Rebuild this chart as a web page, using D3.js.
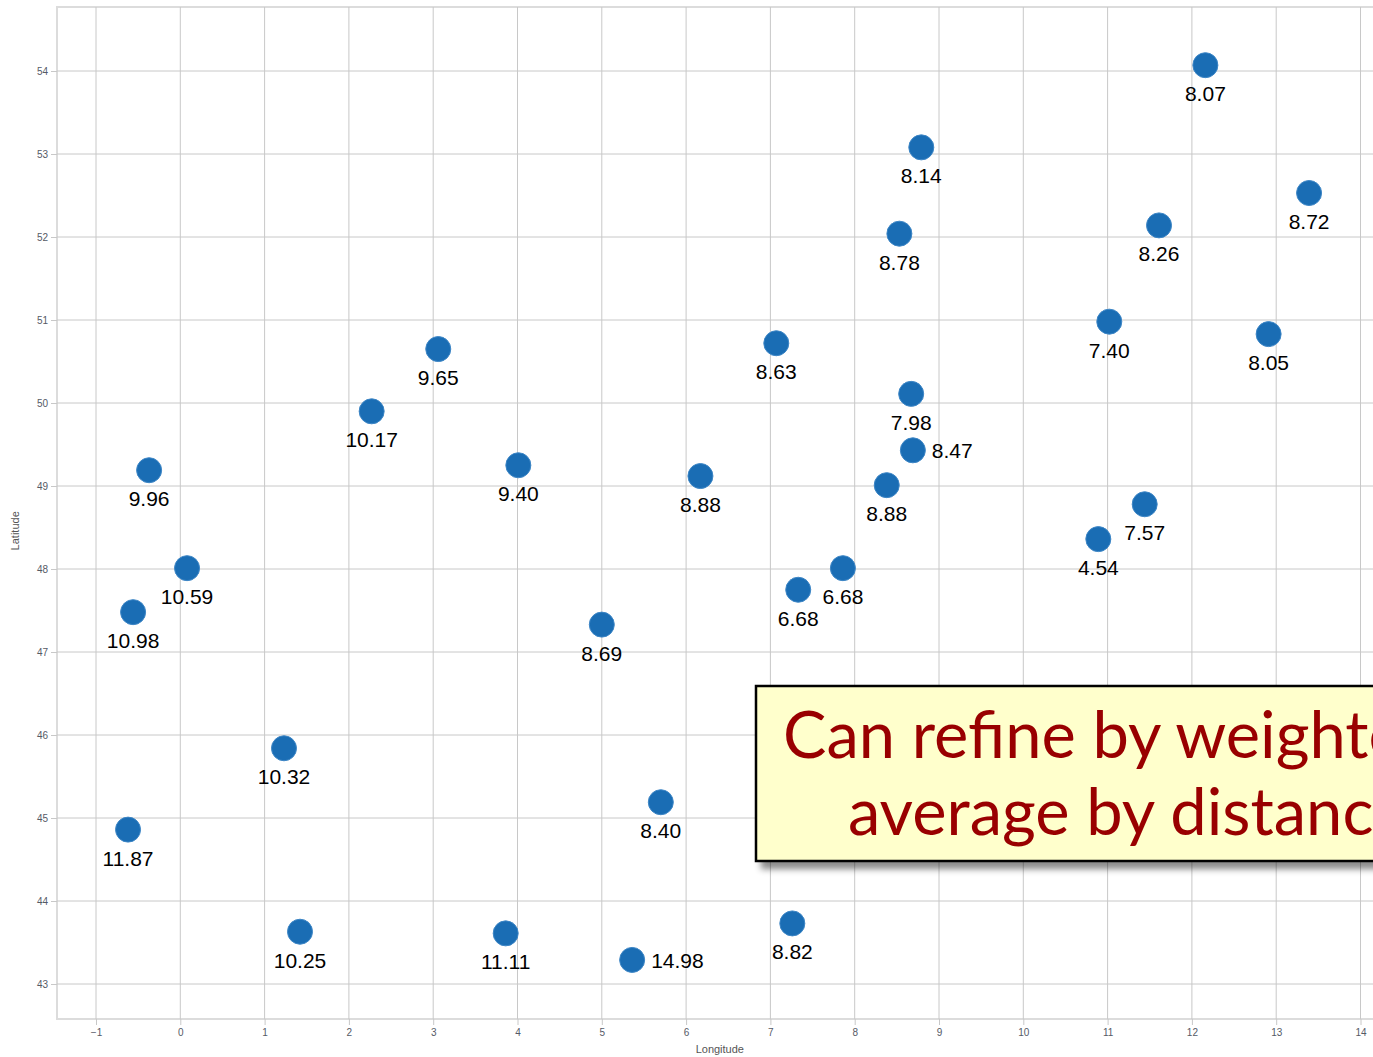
<!DOCTYPE html>
<html>
<head>
<meta charset="utf-8">
<script src="https://cdn.jsdelivr.net/npm/d3@7"></script>
<style>
  html, body { margin: 0; padding: 0; overflow: hidden; background: #fff; }
  #viz svg { display: block; }
</style>
</head>
<body>
<div id="viz"></div>
<script>
const longitudes = [12.16, 8.79, 13.39, 11.61, 8.53, 11.02, 12.91, 3.06, 7.07, 2.27,
  8.67, 8.69, -0.37, 4.01, 6.17, 8.38, 11.44, 10.89, 0.08, -0.56,
  7.86, 7.33, 5.00, 1.23, 5.70, -0.62, 1.42, 3.86, 5.36, 7.26];
const latitudes = [54.07, 53.08, 52.53, 52.14, 52.04, 50.98, 50.83, 50.65, 50.72, 49.90,
  50.11, 49.43, 49.19, 49.25, 49.12, 49.01, 48.78, 48.36, 48.01, 47.48,
  48.01, 47.75, 47.33, 45.84, 45.19, 44.86, 43.63, 43.61, 43.29, 43.73];
const values = ['8.07', '8.14', '8.72', '8.26', '8.78', '7.40', '8.05', '9.65', '8.63', '10.17',
  '7.98', '8.47', '9.96', '9.40', '8.88', '8.88', '7.57', '4.54', '10.59', '10.98',
  '6.68', '6.68', '8.69', '10.32', '8.40', '11.87', '10.25', '11.11', '14.98', '8.82'];
// labels that sit to the right of their dot instead of under it
const rightLabels = ['8.47', '14.98'];

const xTicks = [-1, 0, 1, 2, 3, 4, 5, 6, 7, 8, 9, 10, 11, 12, 13, 14];
const yTicks = [43, 44, 45, 46, 47, 48, 49, 50, 51, 52, 53, 54];
const noteLines = ['Can refine by weighted', 'average by distance'];

const dims = {
  width: 1400,
  height: 1057,
  margin: { top: 7, right: 1, bottom: 38, left: 57 },
};
dims.boundedWidth = dims.width - dims.margin.left - dims.margin.right;
dims.boundedHeight = dims.height - dims.margin.top - dims.margin.bottom;

const points = longitudes.map((lon, i) => ({ lon, lat: latitudes[i], label: values[i] }));

const svg = d3.select('#viz')
  .append('svg')
  .attr('width', dims.width)
  .attr('height', dims.height);

const defs = svg.append('defs');
const shadow = defs.append('filter').attr('id', 'shadow')
  .attr('x', '-10%').attr('y', '-10%').attr('width', '130%').attr('height', '140%');
shadow.append('feDropShadow')
  .attr('dx', 6).attr('dy', 7).attr('stdDeviation', 3)
  .attr('flood-color', '#000').attr('flood-opacity', 0.45);

const bounds = svg.append('g')
  .attr('transform', `translate(${dims.margin.left},${dims.margin.top})`);

const x = d3.scaleLinear().domain([-1, 14]).range([39, 1303.5]);
const y = d3.scaleLinear().domain([43, 54]).range([977, 64]);

// frame
bounds.append('rect')
  .attr('width', dims.boundedWidth)
  .attr('height', dims.boundedHeight)
  .attr('fill', 'none')
  .attr('stroke', '#dcdcdc')
  .attr('stroke-width', 2);

// grid
bounds.append('g')
  .selectAll('line')
  .data(xTicks)
  .join('line')
  .attr('x1', d => x(d)).attr('x2', d => x(d))
  .attr('y1', 0).attr('y2', dims.boundedHeight)
  .attr('stroke', '#c8c8c8');

bounds.append('g')
  .selectAll('line')
  .data(yTicks)
  .join('line')
  .attr('x1', 0).attr('x2', dims.boundedWidth)
  .attr('y1', d => y(d)).attr('y2', d => y(d))
  .attr('stroke', '#c8c8c8');

// axes
const xAxis = bounds.append('g')
  .attr('transform', `translate(0,${dims.boundedHeight})`)
  .call(d3.axisBottom(x).tickValues(xTicks).tickSize(6).tickPadding(4).tickFormat(d3.format('d')));
const yAxis = bounds.append('g')
  .call(d3.axisLeft(y).tickValues(yTicks).tickSize(6).tickPadding(3).tickFormat(d3.format('d')));

[xAxis, yAxis].forEach(a => {
  a.select('.domain').remove();
  a.selectAll('.tick line').attr('stroke', '#c8c8c8');
  a.selectAll('.tick text')
    .attr('fill', '#555a66')
    .style('font-family', 'Liberation Sans, Arial, sans-serif')
    .style('font-size', '10px');
});

svg.append('text')
  .attr('x', dims.margin.left + x(6.4))
  .attr('y', 1053)
  .attr('text-anchor', 'middle')
  .attr('fill', '#555')
  .style('font-family', 'Liberation Sans, Arial, sans-serif')
  .style('font-size', '11px')
  .text('Longitude');

svg.append('text')
  .attr('transform', `translate(19,${dims.margin.top + y(48.46)}) rotate(-90)`)
  .attr('text-anchor', 'middle')
  .attr('fill', '#555')
  .style('font-family', 'Liberation Sans, Arial, sans-serif')
  .style('font-size', '11px')
  .text('Latitude');

// dots
bounds.append('g')
  .selectAll('circle')
  .data(points)
  .join('circle')
  .attr('cx', d => x(d.lon))
  .attr('cy', d => y(d.lat))
  .attr('r', 12.5)
  .attr('fill', '#1a6db4')
  .attr('stroke', '#3d86c6')
  .attr('stroke-width', 1);

bounds.append('g')
  .selectAll('text')
  .data(points)
  .join('text')
  .attr('x', d => rightLabels.includes(d.label) ? x(d.lon) + 19 : x(d.lon))
  .attr('y', d => rightLabels.includes(d.label) ? y(d.lat) + 8 : y(d.lat) + 36)
  .attr('text-anchor', d => rightLabels.includes(d.label) ? 'start' : 'middle')
  .attr('fill', '#000')
  .style('font-family', 'Liberation Sans, Arial, sans-serif')
  .style('font-size', '21px')
  .text(d => d.label);

// callout box
const note = svg.append('g');
note.append('rect')
  .attr('x', 756).attr('y', 686)
  .attr('width', 700).attr('height', 175)
  .attr('fill', '#ffffcc')
  .attr('stroke', '#000')
  .attr('stroke-width', 2.5)
  .attr('filter', 'url(#shadow)');

note.selectAll('text')
  .data(noteLines)
  .join('text')
  .attr('x', (d, i) => i === 0 ? 783 : 848)
  .attr('y', (d, i) => i === 0 ? 758 : 835)
  .attr('fill', '#990000')
  .style('font-family', 'Lato, sans-serif')
  .style('font-size', '65px')
  .text(d => d);
</script>
</body>
</html>
